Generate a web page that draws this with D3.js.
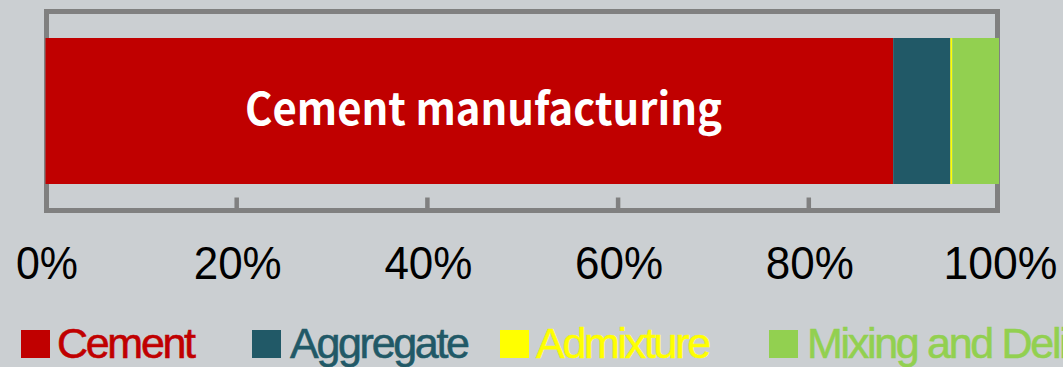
<!DOCTYPE html>
<html>
<head>
<meta charset="utf-8">
<script src="https://cdn.jsdelivr.net/npm/d3@7/dist/d3.min.js"></script>
<style>
  html, body { margin: 0; padding: 0; background: #cbcfd2; overflow: hidden; }
  svg { display: block; }
</style>
</head>
<body>
<svg id="chart" width="1063" height="367"></svg>
<script>
// ---- data ----
const categories = ["Cement", "Aggregate", "Admixture", "Mixing and Delivery"];
const shares = [88.9, 6.0, 0.2, 4.9];          // percent of total
const barLabel = "Cement manufacturing";
const tickValues = [0, 20, 40, 60, 80, 100];
const tickLabels = ["0%", "20%", "40%", "60%", "80%", "100%"];
const colors = ["#c00000", "#215967", "#ffff00", "#92d050"];

// ---- layout ----
const W = 1063, H = 367;
const svg = d3.select("#chart");
const x = d3.scaleLinear().domain([0, 100]).range([45.5, 999]);
const barTop = 38, barBottom = 184;
const frame = { x0: 46.5, x1: 997.5, y0: 11.5, y1: 210.5 };
const legendX = [21, 252, 500, 769];

// frame
svg.append("rect")
  .attr("x", frame.x0).attr("y", frame.y0)
  .attr("width", frame.x1 - frame.x0).attr("height", frame.y1 - frame.y0)
  .attr("fill", "none").attr("stroke", "#808080").attr("stroke-width", 5);

// axis ticks (inward)
const axis = d3.axisBottom(x).tickValues(tickValues.slice(1, -1))
  .tickSizeInner(-13).tickSizeOuter(0).tickFormat("");
const ag = svg.append("g").attr("transform", `translate(0,${frame.y1})`).call(axis);
ag.select(".domain").remove();
ag.selectAll(".tick line").attr("stroke", "#808080").attr("stroke-width", 4.5);

// stacked bar
const stack = [];
let acc = 0;
shares.forEach((v, i) => { stack.push({ cat: categories[i], x0: acc, x1: acc + v, color: colors[i] }); acc += v; });
svg.append("g").selectAll("rect").data(stack).join("rect")
  .attr("x", d => x(d.x0))
  .attr("width", d => x(d.x1) - x(d.x0))
  .attr("y", barTop).attr("height", barBottom - barTop)
  .attr("fill", d => d.color);

// bar label
svg.append("text")
  .attr("x", 483.5).attr("y", 125)
  .attr("text-anchor", "middle")
  .attr("fill", "#ffffff")
  .attr("font-family", "'Noto Sans CJK JP', 'Noto Sans', sans-serif")
  .attr("font-weight", "bold")
  .attr("font-size", 44)
  .attr("textLength", 477).attr("lengthAdjust", "spacingAndGlyphs")
  .text(barLabel);

// tick labels
svg.append("g").selectAll("text").data(tickValues).join("text")
  .attr("x", d => x(d) + 1.5)
  .attr("y", 279)
  .attr("text-anchor", "middle")
  .attr("fill", "#000")
  .attr("font-family", "'Liberation Sans Narrow', 'Liberation Sans', Arial, sans-serif")
  .attr("font-size", 47)
  .attr("textLength", (d, i) => 26 * (tickLabels[i].length - 1) + 36)
  .attr("lengthAdjust", "spacingAndGlyphs")
  .text((d, i) => tickLabels[i]);

// legend
const lg = svg.append("g").selectAll("g").data(categories).join("g")
  .attr("transform", (d, i) => `translate(${legendX[i]},0)`);
lg.append("rect")
  .attr("x", 0).attr("y", 330).attr("width", 29).attr("height", 28)
  .attr("fill", (d, i) => colors[i]);
lg.append("text")
  .attr("x", (d, i) => i % 2 ? 38 : 36).attr("y", 358)
  .attr("fill", (d, i) => colors[i])
  .attr("font-family", "'Liberation Sans', Arial, sans-serif")
  .attr("font-size", 43)
  .attr("letter-spacing", -2.3)
  .attr("stroke", (d, i) => colors[i]).attr("stroke-width", 0.6)
  .text(d => d);
</script>
</body>
</html>
